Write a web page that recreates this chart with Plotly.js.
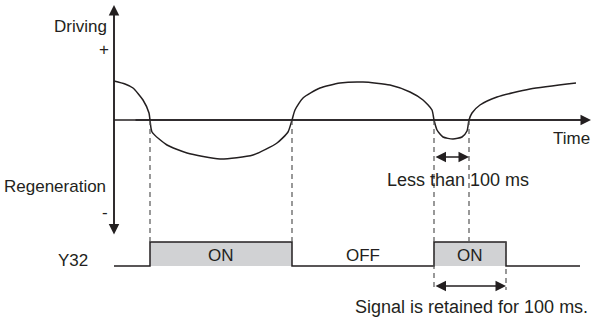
<!DOCTYPE html>
<html>
<head>
<meta charset="utf-8">
<script src="https://cdn.plot.ly/plotly-3.0.1.min.js"></script>
<style>html,body{margin:0;padding:0;background:#fff;}#chart{width:592px;height:322px;}</style>
</head>
<body>
<div id="chart"></div>
<script>
// Driving / regeneration curve (time, driving value; 0 = time axis)
const curveTime  = [114,125,133,143,149,150,152,167,187,220,253,277,288,292,295,303,320,340,363,390,410,423,432,434,437,443,453,462,467,469,472,480,497,530,576];
const curveValue = [39,36,32,20,7,0,-12,-25,-33,-39,-35,-23,-12,0,10,22,32,37,38,35,28,20,10,0,-10,-17,-19,-17,-11,0,7,15,23,31,37];

// Y32 signal: edge times and state after each edge
const signalTime  = [114,150,292,434,506,580];
const signalState = [0,1,0,1,0,0];
const signalText  = ["ON","OFF","ON"];

// Zero crossings of the curve and end of the 100 ms hold
const crossTimes = [150,292,434,469];
const holdEnd = 506;

// Geometry (styling)
const AXIS_X = 114, AXIS_TOP = 115, AXIS_BOTTOM = -116, TIME_END = 591;
const SIG_LOW = -146, SIG_HIGH = -122;
const LOW_DASH_END = -170;
const ARROW1_Y = -37, ARROW2_Y = -166;
const INK = '#231f20';
const FONT = {family: 'Liberation Sans, Arial, sans-serif', size: 17, color: INK};
const FONT_BIG = {family: 'Liberation Sans, Arial, sans-serif', size: 18, color: INK};

const sigY = signalState.map(s => s ? SIG_HIGH : SIG_LOW);

const traces = [
  {x: curveTime, y: curveValue, mode: 'lines', line: {color: INK, width: 1.5, shape: 'spline', smoothing: 0.6}, hoverinfo: 'skip'},
  {x: signalTime, y: sigY, mode: 'lines', line: {color: INK, width: 1.5, shape: 'hv'}, hoverinfo: 'skip'}
];

const shapes = [];
// gray ON boxes
for (let i = 0; i < signalTime.length - 1; i++) {
  if (signalState[i]) {
    shapes.push({type: 'rect', xref: 'x', yref: 'y', x0: signalTime[i], x1: signalTime[i+1], y0: SIG_LOW, y1: SIG_HIGH,
      fillcolor: '#d1d2d4', line: {width: 0}, layer: 'below'});
  }
}
// axes lines
shapes.push({type: 'line', x0: AXIS_X, x1: AXIS_X, y0: AXIS_BOTTOM + 6, y1: AXIS_TOP - 6, line: {color: INK, width: 1.5}});
shapes.push({type: 'line', x0: AXIS_X, x1: TIME_END - 6, y0: 0, y1: 0, line: {color: INK, width: 1.5}});
// dashed lines
const dash = {color: '#555', width: 1.2, dash: '5px,4px'};
crossTimes.forEach((t) => {
  const bottom = (t === signalTime[3]) ? LOW_DASH_END : SIG_HIGH;
  shapes.push({type: 'line', x0: t, x1: t, y0: 0, y1: bottom, line: dash});
});
shapes.push({type: 'line', x0: holdEnd, x1: holdEnd, y0: SIG_HIGH, y1: LOW_DASH_END, line: dash});

const annotations = [];
function arrow(x, y, ax, ay, both) {
  annotations.push({x: x, y: y, ax: ax, ay: ay, xref: 'x', yref: 'y', axref: 'x', ayref: 'y', text: '',
    showarrow: true, arrowhead: 2, arrowsize: 1.4, arrowwidth: 1.5, arrowcolor: INK, arrowside: both ? 'end+start' : 'end'});
}
arrow(AXIS_X, AXIS_TOP, AXIS_X, AXIS_BOTTOM, true);
arrow(TIME_END, 0, AXIS_X + 20, 0, false);
arrow(crossTimes[3], ARROW1_Y, crossTimes[2], ARROW1_Y, true);
arrow(holdEnd, ARROW2_Y, crossTimes[2], ARROW2_Y, true);

function label(text, x, y, xanchor, font) {
  annotations.push({text: text, x: x, y: y, xref: 'x', yref: 'y', showarrow: false, xanchor: xanchor || 'center', yanchor: 'middle', font: font || FONT});
}
label('Driving', 109, 94, 'right');
label('+', 104, 71, 'center');
label('Time', 571, -18, 'center');
label('Regeneration', 108, -66, 'right');
label('-', 105, -92, 'center');
label('Y32', 73, -140, 'center');
for (let i = 1, k = 0; i < signalTime.length - 1 && k < signalText.length; i++, k++) {
  label(signalText[k], (signalTime[i] + signalTime[i+1]) / 2, -135, 'center');
}
label('Less than 100 ms', 458, -60, 'center', FONT_BIG);
label('Signal is retained for 100 ms.', 590, -187, 'right', FONT_BIG);

const layout = {
  width: 592, height: 322, margin: {l: 0, r: 0, t: 0, b: 0},
  paper_bgcolor: '#fff', plot_bgcolor: '#fff', showlegend: false,
  xaxis: {range: [0, 592], visible: false, fixedrange: true},
  yaxis: {range: [-202, 120], visible: false, fixedrange: true},
  shapes: shapes, annotations: annotations
};
Plotly.newPlot('chart', traces, layout, {staticPlot: true, displayModeBar: false});
</script>
</body>
</html>
